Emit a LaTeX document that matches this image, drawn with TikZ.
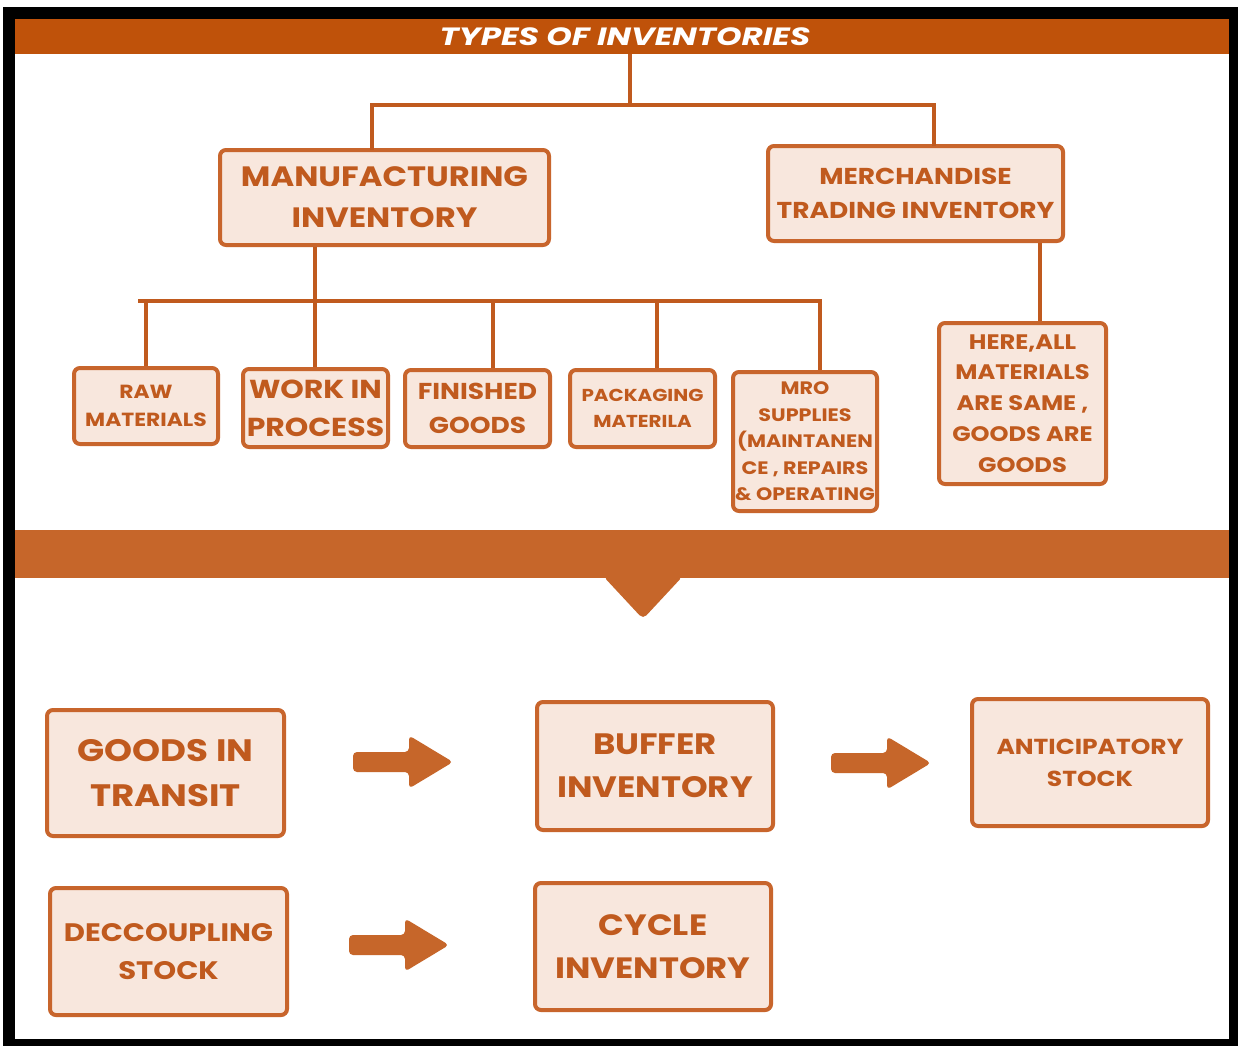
\documentclass[tikz,border=0pt]{standalone}
\usepackage{fontspec}
\setmainfont{Poppins}[FakeStretch=1.15]
\newfontfamily\titlefont{Poppins}[FakeStretch=1.3]
\usetikzlibrary{calc}
\definecolor{hdr}{HTML}{BF520A}
\definecolor{band}{HTML}{C6662A}
\definecolor{bord}{HTML}{C8652C}
\definecolor{boxfill}{HTML}{F8E7DD}
\definecolor{txt}{HTML}{C05A1E}
\definecolor{treec}{HTML}{C05A1E}
\newcommand{\fsz}[1]{\fontsize{#1}{1.47\dimexpr #1pt\relax}\selectfont\bfseries}
\tikzset{
  ibox/.style={draw=bord, line width=4pt, fill=boxfill, rounded corners=6pt,
    text=txt, align=center, inner sep=0pt},
  tree/.style={draw=treec, line width=4pt},
  arrowc/.style={fill=band},
  bigarrow/.pic={\fill[arrowc, rounded corners=4pt] (0,-10) -- (56,-10) -- (56,-26.5) -- (100,0) -- (56,26.5) -- (56,10) -- (0,10) -- cycle;}
}
\begin{document}
\begin{tikzpicture}[x=1pt,y=-1pt]
\useasboundingbox (0,0) rectangle (1238,1046);
\fill[white] (0,0) rectangle (1238,1046);
\fill[black] (3,7) rectangle (1238,1046);
\fill[white] (15,19) rectangle (1229,1039);
% header
\node[fill=hdr, minimum width=1214pt, minimum height=35pt, inner sep=0pt, anchor=north west] (header) at (15,19) {};
\node[text=white, font={\titlefont\fsz{25}\itshape}] (title) at (625,37) {TYPES OF INVENTORIES};
% tree top
\coordinate (hb) at (630,54);
\coordinate (tj) at (630,105);
\coordinate (tl) at (372,105);
\coordinate (tr) at (934,105);
\node[ibox, minimum width=329pt, minimum height=95pt, font=\fsz{28}] (man) at (384.5,197.5) {MANUFACTURING\\INVENTORY};
\node[ibox, minimum width=295pt, minimum height=95pt, font=\fsz{23}] (mer) at (915.5,193.5) {MERCHANDISE\\TRADING INVENTORY};
\draw[tree] (hb) -- (tj);
\draw[tree, line cap=rect] (tl |- man.north) -- (tl) -- (tr) -- (tr |- mer.north);
% second level
\node[ibox, minimum width=144pt, minimum height=76pt, font=\fsz{19}] (raw) at (146,406) {RAW\\MATERIALS};
\node[ibox, minimum width=145pt, minimum height=78pt, font=\fsz{26}] (wip) at (315.5,408) {WORK IN\\PROCESS};
\node[ibox, minimum width=145pt, minimum height=77pt, font=\fsz{23}] (fin) at (477.5,408.5) {FINISHED\\GOODS};
\node[ibox, minimum width=145pt, minimum height=77pt, font=\fsz{17.3}] (pack) at (642.5,408.5) {PACKAGING\\MATERILA};
\node[ibox, minimum width=144pt, minimum height=139pt, font=\fsz{18}] (mro) at (805,441.5) {MRO\\SUPPLIES\\(MAINTANEN\\CE , REPAIRS\\\& OPERATING};
\node[ibox, minimum width=167pt, minimum height=161pt, font=\fsz{21}] (here) at (1022.5,403.5) {HERE,ALL\\MATERIALS\\ARE SAME ,\\GOODS ARE\\GOODS};
\coordinate (m1) at (315,301);
\coordinate (hl) at (138,301);
\coordinate (hr) at (822,301);
\coordinate (d3) at (493,301);
\coordinate (d4) at (657,301);
\coordinate (d5) at (820,301);
\coordinate (mm) at (1040,280);
\draw[tree] (m1 |- man.south) -- (m1);
\draw[tree] (hl) -- (hr);
\draw[tree] (hl -| raw.north) -- (raw.north);
\draw[tree] (m1) -- (m1 |- wip.north);
\draw[tree] (d3) -- (d3 |- fin.north);
\draw[tree] (d4) -- (d4 |- pack.north);
\draw[tree] (d5) -- (d5 |- mro.north);
\draw[tree] (mm |- mer.south) -- (mm |- here.north);
% band
\fill[band] (15,530) rectangle (1229,578);
\fill[band, rounded corners=5pt] (603,576) -- (643,619) -- (683,576) -- cycle;
% bottom boxes
\node[ibox, minimum width=237pt, minimum height=126pt, font=\fsz{31}] (git) at (165.5,773) {GOODS IN\\TRANSIT};
\node[ibox, minimum width=236pt, minimum height=128pt, font=\fsz{29.5}] (buf) at (655,766) {BUFFER\\INVENTORY};
\node[ibox, minimum width=236pt, minimum height=127pt, font=\fsz{21.7}] (ant) at (1090,762.5) {ANTICIPATORY\\STOCK};
\node[ibox, minimum width=237pt, minimum height=127pt, font=\fsz{25.3}] (dec) at (168.5,951.5) {DECCOUPLING\\STOCK};
\node[ibox, minimum width=236pt, minimum height=127pt, font=\fsz{29.4}] (cyc) at (653,946.5) {CYCLE\\INVENTORY};
\coordinate (a1) at (353,762);
\coordinate (a2) at (831,763);
\coordinate (a3) at (349,945);
\pic at (a1) {bigarrow};
\pic at (a2) {bigarrow};
\pic at (a3) {bigarrow};
\end{tikzpicture}
\end{document}
